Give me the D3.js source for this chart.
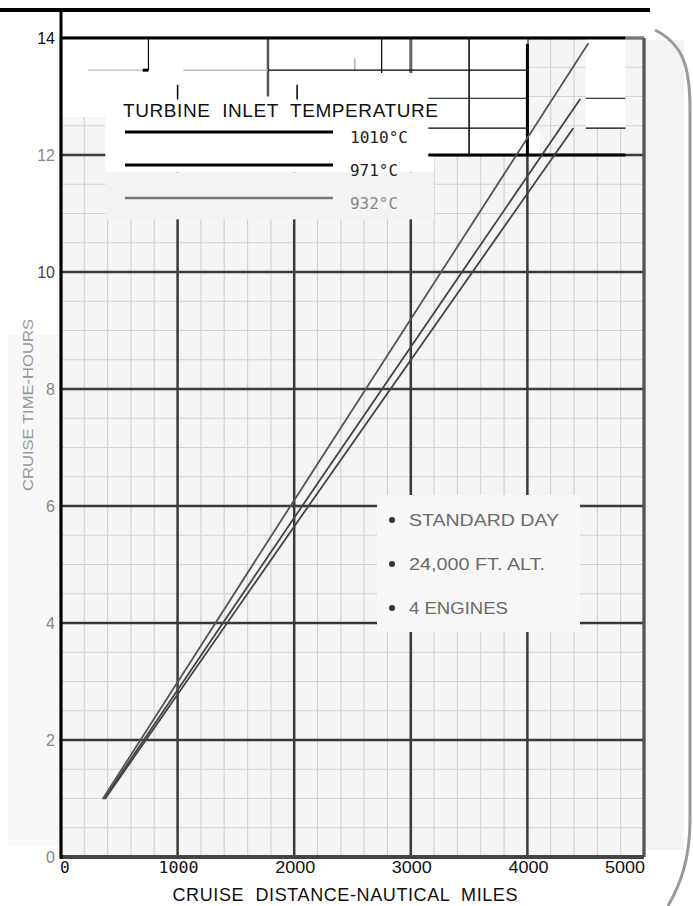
<!DOCTYPE html>
<html>
<head>
<meta charset="utf-8">
<title>Cruise time vs distance</title>
<script src="https://d3js.org/d3.v7.min.js"></script>
<style>
  body { margin: 0; background: #fff; }
  text { font-family: "Liberation Sans", Arial, sans-serif; }
</style>
</head>
<body>
<div id="chart"></div>
<script>
// tick labels
var xTicks = [0, 1000, 2000, 3000, 4000, 5000];
var yTicks = [0, 2, 4, 6, 8, 10, 12, 14];

// one line per turbine inlet temperature (distance in n.mi., time in hours)
var seriesNames = ["1010°C", "971°C", "932°C"];
var dist1010 = [380, 2000, 4390];
var time1010 = [1.0, 5.65, 12.45];
var dist971 = [370, 2000, 4450];
var time971 = [1.0, 5.8, 12.95];
var dist932 = [360, 2000, 4520];
var time932 = [1.0, 6.1, 13.9];

var notes = ["STANDARD DAY", "24,000 FT. ALT.", "4 ENGINES"];

var W = 693, H = 906;
var svg = d3.select("#chart").append("svg")
    .attr("width", W).attr("height", H);

var x = d3.scaleLinear().domain([0, 5000]).range([61, 644]);
var y = d3.scaleLinear().domain([0, 14]).range([857, 38]);

// scanned page tint at the edges
svg.append("rect").attr("x", 644).attr("y", 40).attr("width", 40).attr("height", 810)
    .attr("fill", "#f2f2f2");
svg.append("rect").attr("x", 8).attr("y", 335).attr("width", 54).attr("height", 510)
    .attr("fill", "#f8f8f8");

// paper background
svg.append("rect")
    .attr("x", x(0)).attr("y", y(14))
    .attr("width", x(5000) - x(0)).attr("height", y(0) - y(14))
    .attr("fill", "#f5f5f5");

// minor grid
var grid = svg.append("g");
grid.selectAll(".vmin").data(x.ticks(20)).enter().append("line")
    .attr("x1", d => x(d)).attr("x2", d => x(d))
    .attr("y1", y(0)).attr("y2", y(14))
    .attr("stroke", "#d2d2d2").attr("stroke-width", 1.2);
grid.selectAll(".hmin").data(y.ticks(28)).enter().append("line")
    .attr("y1", d => y(d)).attr("y2", d => y(d))
    .attr("x1", x(0)).attr("x2", x(5000))
    .attr("stroke", "#d2d2d2").attr("stroke-width", 1.2);

// major grid
grid.selectAll(".vmaj").data(xTicks).enter().append("line")
    .attr("x1", d => x(d)).attr("x2", d => x(d))
    .attr("y1", y(0)).attr("y2", y(14))
    .attr("stroke", "#3a3a3a").attr("stroke-width", 2.5);
grid.selectAll(".hmaj").data(yTicks).enter().append("line")
    .attr("y1", d => y(d)).attr("y2", d => y(d))
    .attr("x1", x(0)).attr("x2", x(5000))
    .attr("stroke", "#3a3a3a").attr("stroke-width", 2.5);

// pasted-over top band (white, with a few redrawn rules)
// [x0 mi, x1 mi, y0 h, y1 h, fill]
var patches = [
  [15, 380, 12.65, 14, "#fff"],
  [380, 4000, 12, 14, "#fff"],
  [4000, 4110, 12, 12.4, "#fff"],
  [4500, 4840, 12.45, 14, "#fff"],
  [380, 3200, 11.7, 12, "#fff"],
  [380, 3200, 10.9, 11.7, "#f3f3f3"]
];
var band = svg.append("g");
band.selectAll("rect").data(patches).enter().append("rect")
    .attr("x", d => x(d[0])).attr("y", d => y(d[3]))
    .attr("width", d => x(d[1]) - x(d[0])).attr("height", d => y(d[2]) - y(d[3]))
    .attr("fill", d => d[4]);

// [x0, y0, x1, y1, width, colour]
var rules = [
  [3500, 12, 3500, 14, 1.5, "#000"],
  [4000, 12, 4000, 13.9, 3, "#000"],
  [3000, 13.4, 3000, 14, 3, "#666"],
  [2750, 13.4, 2750, 14, 1.2, "#000"],
  [2520, 13.45, 2520, 13.65, 1.2, "#999"],
  [1775, 13.0, 1775, 14, 2.5, "#555"],
  [2025, 12.95, 2025, 13.2, 1.5, "#000"],
  [1000, 12.95, 1000, 13.2, 1.5, "#000"],
  [750, 13.45, 750, 14, 1.2, "#000"],
  [700, 13.45, 750, 13.45, 3, "#000"],
  [230, 13.45, 700, 13.45, 1.2, "#bbb"],
  [1050, 13.45, 1775, 13.45, 1.5, "#bbb"],
  [1775, 13.45, 4000, 13.45, 1.2, "#000"],
  [3150, 12.97, 4000, 12.97, 1.2, "#000"],
  [4500, 12.97, 4840, 12.97, 1.2, "#000"],
  [3150, 12.46, 4000, 12.46, 1.2, "#000"],
  [4500, 12.46, 4840, 12.46, 1.2, "#000"],
  [3150, 12, 4840, 12, 3, "#000"]
];
band.selectAll("line").data(rules).enter().append("line")
    .attr("x1", d => x(d[0])).attr("y1", d => y(d[1]))
    .attr("x2", d => x(d[2])).attr("y2", d => y(d[3]))
    .attr("stroke-width", d => d[4]).attr("stroke", d => d[5]);

// notes box
svg.append("rect")
    .attr("x", 377).attr("y", 495).attr("width", 203).attr("height", 137)
    .attr("fill", "#f8f8f8");
var ng = svg.append("g");
notes.forEach(function(n, i) {
  ng.append("circle").attr("cx", 392).attr("cy", 520 + i * 44).attr("r", 3).attr("fill", "#333");
  ng.append("text").attr("x", 409).attr("y", 526 + i * 44)
    .attr("font-size", 16).attr("fill", "#6a6a6a")
    .attr("textLength", [150, 136, 99][i]).attr("lengthAdjust", "spacingAndGlyphs")
    .text(n);
});

// data lines
var line = d3.line().x(d => x(d[0])).y(d => y(d[1]));
var series = [
  { name: seriesNames[0], pts: d3.zip(dist1010, time1010), color: "#444", lw: 3, lcolor: "#000" },
  { name: seriesNames[1], pts: d3.zip(dist971, time971), color: "#444", lw: 3, lcolor: "#000" },
  { name: seriesNames[2], pts: d3.zip(dist932, time932), color: "#555", lw: 2.5, lcolor: "#777" }
];
svg.selectAll(".series").data(series).enter().append("path")
    .attr("d", d => line(d.pts))
    .attr("fill", "none")
    .attr("stroke", d => d.color)
    .attr("stroke-width", 1.8)
    .attr("stroke-linecap", "round");

// legend
svg.append("text").attr("x", 123).attr("y", 117)
    .attr("font-size", 19).attr("fill", "#111")
    .attr("textLength", 315).attr("lengthAdjust", "spacing")
    .attr("xml:space", "preserve")
    .text("TURBINE  INLET  TEMPERATURE");
var lg = svg.append("g");
series.forEach(function(s, i) {
  var ly = 132 + i * 33;
  lg.append("line").attr("x1", 125).attr("x2", 333).attr("y1", ly).attr("y2", ly)
    .attr("stroke", s.lcolor).attr("stroke-width", s.lw);
  lg.append("text").attr("x", 350).attr("y", ly + 11)
    .attr("font-size", 16).attr("fill", i == 2 ? "#888" : "#222")
    .style("font-family", "'DejaVu Sans Mono', monospace")
    .attr("textLength", i == 0 ? 58 : 48).attr("lengthAdjust", "spacingAndGlyphs")
    .text(s.name);
});

// plot frame
svg.append("line").attr("x1", 0).attr("x2", 650).attr("y1", 10).attr("y2", 10)
    .attr("stroke", "#000").attr("stroke-width", 4);
svg.append("line").attr("x1", x(0)).attr("x2", x(4840)).attr("y1", y(14)).attr("y2", y(14))
    .attr("stroke", "#000").attr("stroke-width", 3);
svg.append("line").attr("x1", x(4840)).attr("x2", x(5000)).attr("y1", y(14)).attr("y2", y(14))
    .attr("stroke", "#777").attr("stroke-width", 3);
svg.append("line").attr("x1", x(5000)).attr("x2", x(5000)).attr("y1", y(14)).attr("y2", y(0))
    .attr("stroke", "#555").attr("stroke-width", 3);
svg.append("line").attr("x1", x(0)).attr("x2", x(5000)).attr("y1", y(0)).attr("y2", y(0))
    .attr("stroke", "#444").attr("stroke-width", 4);
svg.append("line").attr("x1", x(0)).attr("x2", x(0)).attr("y1", 10).attr("y2", y(0) + 2)
    .attr("stroke", "#000").attr("stroke-width", 3);

// y tick labels
svg.selectAll(".ylab").data(yTicks).enter().append("text")
    .attr("x", 55).attr("y", d => y(d) + 6)
    .attr("text-anchor", "end").attr("font-size", 16)
    .attr("fill", d => d >= 14 ? "#111" : (d == 10 ? "#444" : "#888"))
    .text(d => d);

// x tick labels
svg.selectAll(".xlab").data(xTicks).enter().append("text")
    .attr("x", d => d == 0 ? x(d) - 1 : x(d) + 1)
    .attr("y", 873)
    .attr("text-anchor", d => d == 0 ? "start" : (d == 5000 ? "end" : "middle"))
    .attr("font-size", 16).attr("fill", "#111")
    .style("font-family", d => d <= 1000 ? "'DejaVu Sans Mono', monospace" : null)
    .attr("textLength", d => d == 0 ? null : 40).attr("lengthAdjust", "spacingAndGlyphs")
    .text(d => d);

// axis titles
svg.append("text").attr("x", 345).attr("y", 901)
    .attr("text-anchor", "middle").attr("font-size", 18).attr("fill", "#111")
    .attr("textLength", 345).attr("lengthAdjust", "spacing")
    .attr("xml:space", "preserve")
    .text("CRUISE  DISTANCE-NAUTICAL  MILES");
svg.append("text")
    .attr("transform", "translate(33,405) rotate(-90)")
    .attr("text-anchor", "middle").attr("font-size", 15).attr("fill", "#999")
    .attr("textLength", 172).attr("lengthAdjust", "spacingAndGlyphs")
    .text("CRUISE TIME-HOURS");

// page edge bracket from the scan
svg.append("path")
    .attr("d", "M655,30 C685,45 690,70 690,110 L690,820 C690,860 680,885 668,906")
    .attr("fill", "none").attr("stroke", "#9a9a9a").attr("stroke-width", 3);
</script>
</body>
</html>
